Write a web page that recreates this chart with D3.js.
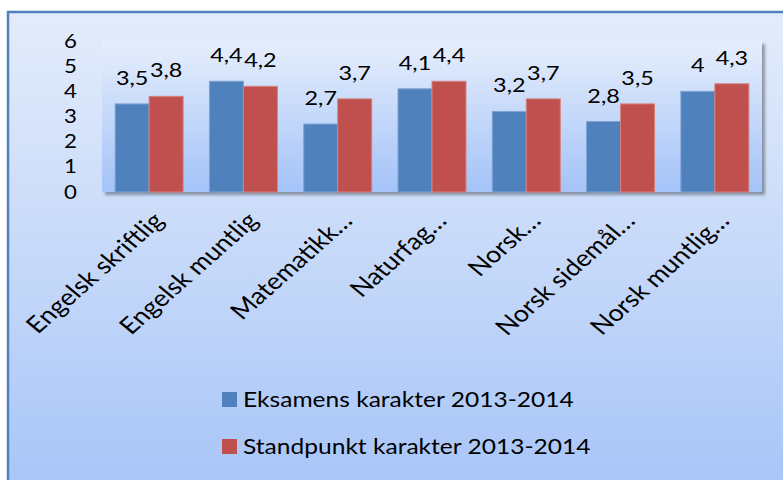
<html>
<head>
<meta charset="utf-8">
<title>Karakterer</title>
<style>
  body{margin:0;}
  svg{display:block;}
</style>
<script src="https://d3js.org/d3.v7.min.js"></script>
</head>
<body>
<script>
var categories = ["Engelsk skriftlig", "Engelsk muntlig", "Matematikk…", "Naturfag…", "Norsk…", "Norsk sidemål…", "Norsk muntlig…"];
var eksamen = [3.5, 4.4, 2.7, 4.1, 3.2, 2.8, 4];
var standpunkt = [3.8, 4.2, 3.7, 4.4, 3.7, 3.5, 4.3];
var seriesNames = ["Eksamens karakter 2013-2014", "Standpunkt karakter 2013-2014"];
var yTicks = [0, 1, 2, 3, 4, 5, 6];

var width = 783, height = 480;
var plot = {left: 102, right: 762, top: 41, bottom: 192};
var font = "Lato, 'Open Sans', sans-serif";
var stretch = 1.17; // the picture looks a bit wider than tall

var color = d3.scaleOrdinal().domain(seriesNames).range(["#4f81bd", "#c0504d"]);
var strokeColor = d3.scaleOrdinal().domain(seriesNames).range(["#7ea3d4", "#d6817e"]);
var fmt = d => String(d).replace(".", ",");

var data = categories.map((c, i) => ({
  cat: c,
  values: [{key: seriesNames[0], v: eksamen[i]}, {key: seriesNames[1], v: standpunkt[i]}]
}));

var svg = d3.select("body").append("svg")
  .attr("width", width)
  .attr("height", height);

var defs = svg.append("defs");
var bg = defs.append("linearGradient").attr("id", "bg").attr("x1", 0).attr("y1", 0).attr("x2", 0).attr("y2", 1);
bg.append("stop").attr("offset", "0%").attr("stop-color", "#e4ecfb");
bg.append("stop").attr("offset", "50%").attr("stop-color", "#c6d9f9");
bg.append("stop").attr("offset", "100%").attr("stop-color", "#a6c4f8");

var pg = defs.append("linearGradient").attr("id", "pg").attr("x1", 0).attr("y1", 0).attr("x2", 0).attr("y2", 1);
pg.append("stop").attr("offset", "0%").attr("stop-color", "#e6eefc");
pg.append("stop").attr("offset", "100%").attr("stop-color", "#a4c3f8");

var sh = defs.append("filter").attr("id", "shadow").attr("x", "-5%").attr("y", "-5%").attr("width", "115%").attr("height", "125%");
sh.append("feDropShadow").attr("dx", 3).attr("dy", 3).attr("stdDeviation", 1.5).attr("flood-color", "#000").attr("flood-opacity", 0.35);

// outer chart area
svg.append("rect")
  .attr("x", 8).attr("y", 12)
  .attr("width", width + 10).attr("height", height + 10)
  .attr("fill", "url(#bg)")
  .attr("stroke", "#4f81bd")
  .attr("stroke-width", 2.5);

// plot area
svg.append("rect")
  .attr("x", plot.left).attr("y", plot.top)
  .attr("width", plot.right - plot.left).attr("height", plot.bottom - plot.top)
  .attr("fill", "url(#pg)")
  .attr("filter", "url(#shadow)");

var x0 = d3.scaleBand()
  .domain(categories)
  .range([plot.left, plot.right])
  .paddingInner(0.279)
  .paddingOuter(0.1395);

var x1 = d3.scaleBand()
  .domain(seriesNames)
  .range([0, x0.bandwidth()]);

var y = d3.scaleLinear()
  .domain([0, 6])
  .range([plot.bottom, plot.top]);

// y axis
var yAxis = svg.append("g")
  .attr("transform", "translate(" + plot.left + ",0)")
  .call(d3.axisLeft(y).tickValues(yTicks).tickFormat(d3.format("d")).tickSize(0));
yAxis.select(".domain").attr("stroke", "#8c8c8c").attr("stroke-width", 2).attr("filter", "url(#shadow)");
yAxis.selectAll("text")
  .attr("x", 0)
  .attr("transform", "translate(-25,0) scale(" + stretch + ",1)")
  .style("font-family", font)
  .style("font-size", "19px")
  .attr("fill", "#000");

// bars
var groups = svg.selectAll(".cat")
  .data(data)
  .enter()
  .append("g")
  .attr("class", "cat")
  .attr("transform", d => "translate(" + x0(d.cat) + ",0)");

groups.selectAll("rect")
  .data(d => d.values)
  .enter()
  .append("rect")
  .attr("x", d => x1(d.key))
  .attr("y", d => y(d.v))
  .attr("width", x1.bandwidth())
  .attr("height", d => y(0) - y(d.v))
  .attr("fill", d => color(d.key))
  .attr("stroke", d => strokeColor(d.key))
  .attr("stroke-width", 1);

groups.selectAll("text")
  .data(d => d.values)
  .enter()
  .append("text")
  .text(d => fmt(d.v))
  .attr("transform", d => "translate(" + (x1(d.key) + x1.bandwidth() / 2) + "," + (y(d.v) - 19) + ") scale(" + stretch + ",1)")
  .attr("text-anchor", "middle")
  .style("font-family", font)
  .style("font-size", "20px")
  .attr("fill", "#000");

// x axis
var xAxis = svg.append("g")
  .attr("transform", "translate(0," + plot.bottom + ")")
  .call(d3.axisBottom(x0).tickSize(0));
xAxis.select(".domain").attr("stroke", "#8c8c8c").attr("stroke-width", 3).attr("filter", "url(#shadow)");
xAxis.selectAll("text")
  .attr("x", 0).attr("y", 0).attr("dy", 0)
  .attr("text-anchor", "end")
  .attr("transform", "translate(16,30) scale(" + stretch + ",1) rotate(-46)")
  .style("font-family", font)
  .style("font-size", "23px")
  .attr("fill", "#000");

// legend
var legend = svg.selectAll(".legend")
  .data(seriesNames)
  .enter()
  .append("g")
  .attr("class", "legend")
  .attr("transform", (d, i) => "translate(222," + (392 + 47 * i) + ")");
legend.append("rect")
  .attr("width", 15)
  .attr("height", 15)
  .attr("fill", d => color(d));
legend.append("text")
  .text(d => d)
  .attr("transform", "translate(21,15) scale(" + stretch + ",1)")
  .style("font-family", font)
  .style("font-size", "21px")
  .attr("fill", "#000");
</script>
</body>
</html>
